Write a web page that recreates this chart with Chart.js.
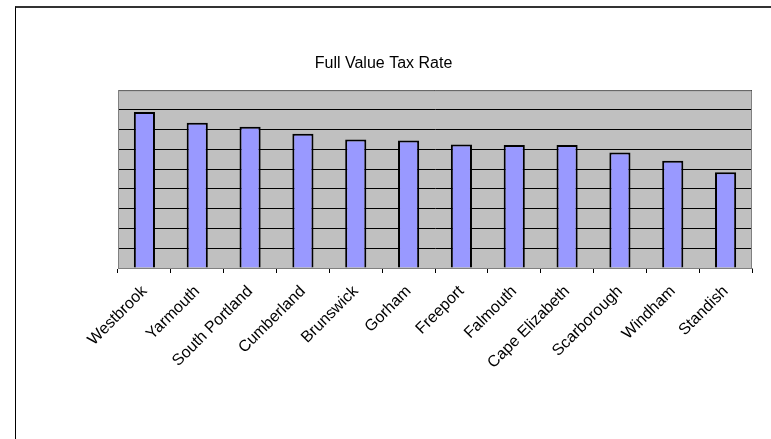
<!DOCTYPE html>
<html>
<head>
<meta charset="utf-8">
<script src="https://cdn.jsdelivr.net/npm/chart.js@4/dist/chart.umd.min.js"></script>
<style>
  html, body { margin: 0; padding: 0; background: #fff; }
  #wrap { position: relative; width: 771px; height: 439px; overflow: hidden; }
  #frame { position: absolute; left: 15px; top: 6px; width: 800px; height: 500px;
           border-left: 1px solid #000; border-top: 2px solid #333; }
  canvas { position: absolute; left: 0; top: 0; }
</style>
</head>
<body>
<div id="wrap">
  <div id="frame"></div>
  <canvas id="grafico" width="771" height="439"></canvas>
</div>
<script>
const towns = ["Westbrook", "Yarmouth", "South Portland", "Cumberland", "Brunswick", "Gorham",
  "Freeport", "Falmouth", "Cape Elizabeth", "Scarborough", "Windham", "Standish"];
const taxRate = [15.8, 14.7, 14.3, 13.6, 13.0, 12.9, 12.5, 12.45, 12.45, 11.7, 10.85, 9.7];
const yMax = 18;
const yStep = 2;

// gray plot area with gray frame, like the old Excel default
const plotBg = {
  id: "plotBg",
  beforeDraw(chart) {
    const a = chart.chartArea, c = chart.ctx;
    c.save();
    c.fillStyle = "#C0C0C0";
    c.fillRect(a.left, a.top, a.right - a.left, a.bottom - a.top);
    c.restore();
  },
  afterDatasetsDraw(chart) {
    const a = chart.chartArea, c = chart.ctx;
    c.save();
    c.strokeStyle = "#808080";
    c.lineWidth = 1;
    c.beginPath();
    c.moveTo(a.left, a.top + 0.5);
    c.lineTo(a.right - 0.5, a.top + 0.5);
    c.lineTo(a.right - 0.5, a.bottom);
    c.stroke();
    c.restore();
  }
};

new Chart(document.getElementById("grafico"), {
  type: "bar",
  data: {
    labels: towns,
    datasets: [{
      data: taxRate,
      backgroundColor: "#9999FF",
      borderColor: "#000",
      borderWidth: 2,
      barPercentage: 0.4,
      categoryPercentage: 1
    }]
  },
  options: {
    responsive: false,
    animation: false,
    layout: { padding: { left: 15, right: 19, top: 0, bottom: 0 } },
    plugins: {
      legend: { display: false },
      tooltip: { enabled: false },
      title: {
        display: true,
        text: "Full Value Tax Rate",
        color: "#000",
        font: { family: "'Liberation Sans', Arial, sans-serif", size: 16, weight: "normal" },
        padding: { top: 54, bottom: 17 }
      }
    },
    scales: {
      x: {
        afterFit: s => { s.height = 171; },
        grid: { drawOnChartArea: false, color: "#000", tickLength: 5, offset: true },
        border: { color: "#808080" },
        ticks: {
          autoSkip: false, minRotation: 45, maxRotation: 45, padding: 9,
          color: "#000",
          font: { family: "'Liberation Sans', Arial, sans-serif", size: 16 }
        }
      },
      y: {
        min: 0, max: yMax,
        afterFit: s => { s.width = 103; },
        ticks: { display: false, stepSize: yStep },
        grid: { color: "#000", drawTicks: false },
        border: { color: "#808080" }
      }
    }
  },
  plugins: [plotBg]
});
</script>
</body>
</html>
